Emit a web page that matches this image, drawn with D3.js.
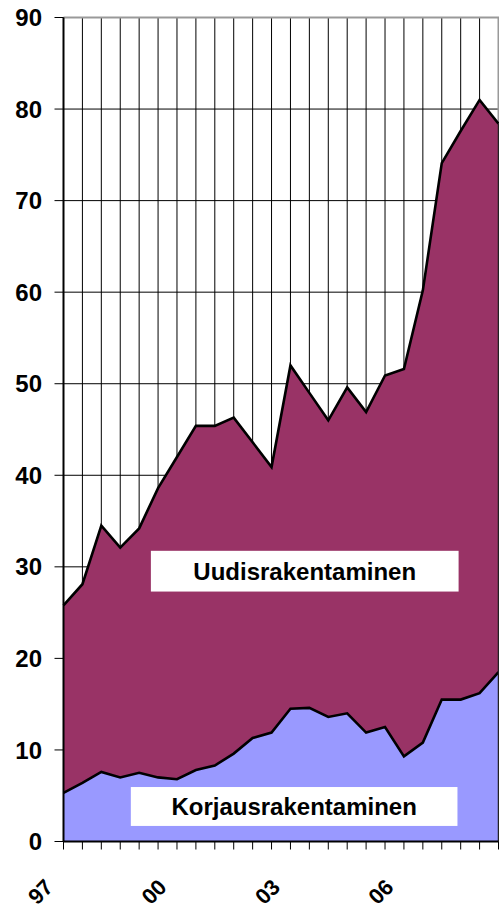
<!DOCTYPE html>
<html>
<head>
<meta charset="utf-8">
<script src="https://cdn.jsdelivr.net/npm/d3@7"></script>
<style>
  body { margin: 0; background: #fff; }
  svg { display: block; }
  text { font-family: "Liberation Sans", Arial, sans-serif; font-weight: bold; }
</style>
</head>
<body>
<div id="chart"></div>
<script>
// half-year periods 1997/1 .. 2008/2
var periods = [
  "1997/1","1997/2","1998/1","1998/2","1999/1","1999/2",
  "2000/1","2000/2","2001/1","2001/2","2002/1","2002/2",
  "2003/1","2003/2","2004/1","2004/2","2005/1","2005/2",
  "2006/1","2006/2","2007/1","2007/2","2008/1","2008/2"
];
var tickLabels = ["97","","","","","","00","","","","","","03","","","","","","06","","","","",""];
var seriesNames = ["Korjausrakentaminen", "Uudisrakentaminen"];
var korjaus = [5.3,6.4,7.6,7.0,7.5,7.0,6.8,7.8,8.3,9.6,11.3,11.9,14.5,14.6,13.6,14.0,11.9,12.5,9.3,10.8,15.5,15.5,16.2,18.5];
var uudis = [20.5,21.7,26.9,25.1,26.7,31.6,35.2,37.6,37.1,36.7,32.3,29.0,37.5,34.4,32.4,35.6,35.0,38.4,42.3,49.4,58.6,62.1,64.8,59.9];
var yTicks = [0,10,20,30,40,50,60,70,80,90];

var width = 499, height = 910;
var mLeft = 63.5, mRight = 498.5, mTop = 17.5, mBottom = 841.5;

var svg = d3.select("#chart").append("svg")
  .attr("width", width)
  .attr("height", height);

var x = d3.scalePoint().domain(periods).range([mLeft, mRight]);
var y = d3.scaleLinear().domain([0, 90]).range([mBottom, mTop]);

// gridlines
svg.append("g").selectAll("line")
  .data(yTicks.slice(0, -1))
  .enter().append("line")
  .attr("x1", mLeft).attr("x2", mRight)
  .attr("y1", function(d) { return y(d); })
  .attr("y2", function(d) { return y(d); })
  .attr("stroke", "#000").attr("stroke-width", 1);

svg.append("g").selectAll("line")
  .data(periods)
  .enter().append("line")
  .attr("x1", function(d) { return x(d); })
  .attr("x2", function(d) { return x(d); })
  .attr("y1", mTop).attr("y2", mBottom)
  .attr("stroke", "#000").attr("stroke-width", 1);

// plot border (top / right in grey)
svg.append("path")
  .attr("d", "M" + mLeft + "," + y(90) + "H" + mRight + "V" + mBottom)
  .attr("fill", "none").attr("stroke", "#999").attr("stroke-width", 2);

// stacked areas
var table = periods.map(function(p, i) {
  return { period: p, Korjausrakentaminen: korjaus[i], Uudisrakentaminen: uudis[i] };
});
var stacked = d3.stack().keys(seriesNames)(table);
var colors = { Korjausrakentaminen: "#9999ff", Uudisrakentaminen: "#993366" };

var area = d3.area()
  .x(function(d) { return x(d.data.period); })
  .y0(function(d) { return y(d[0]); })
  .y1(function(d) { return y(d[1]); });

var topLine = d3.line()
  .x(function(d) { return x(d.data.period); })
  .y(function(d) { return y(d[1]); });

svg.append("g").selectAll("path")
  .data(stacked)
  .enter().append("path")
  .attr("d", area)
  .attr("fill", function(d) { return colors[d.key]; });

svg.append("g").selectAll("path")
  .data(stacked)
  .enter().append("path")
  .attr("d", topLine)
  .attr("fill", "none")
  .attr("stroke", "#000")
  .attr("stroke-width", 2.6)
  .attr("stroke-linejoin", "miter");

// right edge of the areas
svg.append("line")
  .attr("x1", mRight).attr("x2", mRight)
  .attr("y1", y(korjaus[23] + uudis[23])).attr("y2", mBottom)
  .attr("stroke", "#222").attr("stroke-width", 1.5);

// y axis
var yAxis = svg.append("g");
yAxis.append("line")
  .attr("x1", mLeft).attr("x2", mLeft)
  .attr("y1", mTop).attr("y2", mBottom)
  .attr("stroke", "#000").attr("stroke-width", 2);
yAxis.selectAll(".tick")
  .data(yTicks)
  .enter().append("line")
  .attr("x1", mLeft - 9).attr("x2", mLeft)
  .attr("y1", function(d) { return y(d); })
  .attr("y2", function(d) { return y(d); })
  .attr("stroke", "#000").attr("stroke-width", 1);
yAxis.selectAll("text")
  .data(yTicks)
  .enter().append("text")
  .attr("x", 42)
  .attr("y", function(d) { return y(d); })
  .attr("dy", "0.36em")
  .attr("text-anchor", "end")
  .style("font-size", "24px")
  .text(function(d) { return d; });

// x axis
var xAxis = svg.append("g");
xAxis.append("line")
  .attr("x1", mLeft).attr("x2", mRight)
  .attr("y1", mBottom).attr("y2", mBottom)
  .attr("stroke", "#000").attr("stroke-width", 2);
xAxis.selectAll(".tick")
  .data(periods)
  .enter().append("line")
  .attr("x1", function(d) { return x(d); })
  .attr("x2", function(d) { return x(d); })
  .attr("y1", mBottom).attr("y2", mBottom + 8)
  .attr("stroke", "#000").attr("stroke-width", 1);
xAxis.selectAll("text")
  .data(periods.filter(function(p, i) { return tickLabels[i] !== ""; }))
  .enter().append("text")
  .attr("transform", function(d) {
    return "translate(" + (x(d) - 9) + "," + (mBottom + 47) + ") rotate(-45)";
  })
  .attr("text-anchor", "end")
  .style("font-size", "22px")
  .text(function(d) { return tickLabels[periods.indexOf(d)]; });

// series labels in boxes (positions in data units)
var labels = [
  { name: "Uudisrakentaminen", x0: 4.62, x1: 20.89, y0: 27.3, y1: 31.75 },
  { name: "Korjausrakentaminen", x0: 3.56, x1: 20.83, y0: 1.7, y1: 5.95 }
];
var xi = d3.scaleLinear().domain([0, periods.length - 1]).range([mLeft, mRight]);
var lab = svg.append("g").selectAll("g")
  .data(labels)
  .enter().append("g");
lab.append("rect")
  .attr("x", function(d) { return xi(d.x0); })
  .attr("y", function(d) { return y(d.y1); })
  .attr("width", function(d) { return xi(d.x1) - xi(d.x0); })
  .attr("height", function(d) { return y(d.y0) - y(d.y1); })
  .attr("fill", "#fff");
lab.append("text")
  .attr("x", function(d) { return (xi(d.x0) + xi(d.x1)) / 2; })
  .attr("y", function(d) { return (y(d.y0) + y(d.y1)) / 2; })
  .attr("dy", "0.36em")
  .attr("text-anchor", "middle")
  .style("font-size", "24px")
  .text(function(d) { return d.name; });
</script>
</body>
</html>
